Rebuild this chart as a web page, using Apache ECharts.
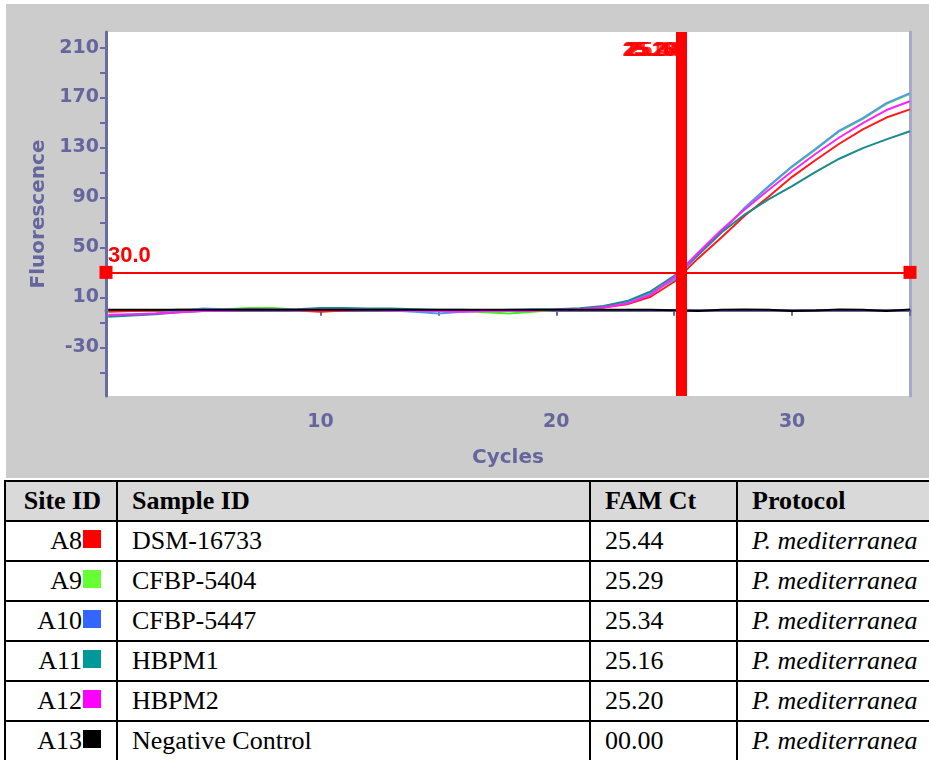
<!DOCTYPE html>
<html>
<head>
<meta charset="utf-8">
<script src="https://cdn.jsdelivr.net/npm/echarts@6/dist/echarts.min.js"></script>
<style>
  html, body { margin: 0; padding: 0; width: 929px; height: 760px; overflow: hidden; background: #ffffff; }
  #chart { position: absolute; left: 6px; top: 4px; width: 923px; height: 474px; background: #cccccc; }
  #results {
    position: absolute; left: 4px; top: 480px; width: 944px;
    border-collapse: collapse; table-layout: fixed;
    font-family: "Liberation Serif", "Times New Roman", serif; font-size: 26px; color: #000;
  }
  #results td, #results th { border: 2px solid #000; height: 38px; padding: 0; white-space: nowrap; overflow: hidden; }
  #results th { background: #d9d9d9; font-weight: bold; text-align: left; padding-left: 14px; }
  #results td { padding-left: 14px; }
  #results .site { text-align: right; padding-left: 0; padding-right: 15px; }
  #results .swatch { display: inline-block; width: 18px; height: 18px; vertical-align: 1px; margin-left: 1px; }
  #results .proto { font-style: italic; }
</style>
</head>
<body>
<div id="chart"></div>
<table id="results"></table>
<script>
// Amplification run: cycle numbers and fluorescence readings per well
const cycles = [1, 2, 3, 4, 5, 6, 7, 8, 9, 10, 11, 12, 13, 14, 15, 16, 17, 18, 19, 20,
                21, 22, 23, 24, 25, 26, 27, 28, 29, 30, 31, 32, 33, 34, 35];

const wellA8 = [-1.5, -1, -0.5, 0, 0, 0, 0.5, 0, -0.5, -1.5,
                -0.5, 0, 0, 0, -0.5, -0.5, -0.5, -1, -0.5, 0,
                0.5, 1.8, 4.5, 10.5, 22.5, 41, 58, 75.5, 90.5, 106.5,
                120, 133, 144.5, 154, 160.5];
const wellA9 = [-1, -1, -0.5, 0, 0, 0.5, 1.5, 1.5, 0, 0,
                0.5, 0, 0, 0, -0.5, -1, -2, -3, -1.5, 0,
                0.8, 2.2, 5.5, 12.5, 25, 44, 62.5, 81.5, 98.5, 114.5,
                128.5, 143, 153, 165, 173];
const wellA10 = [-5, -4, -3, -1, 1, 0.5, 0, 0, -0.5, 0,
                 0.5, 0, -0.5, -1.5, -3, -1.5, -0.5, 0, 0.5, 0,
                 0.8, 2.5, 6, 13.5, 24, 43.5, 62, 82, 99, 115,
                 129, 143.5, 153.5, 165.5, 173.5];
const wellA11 = [-5.5, -4.5, -3.5, -2, -1, 0, 0.5, 0, 0.5, 1.5,
                 1.5, 1, 1, 0.5, 0, 0, -0.5, -0.5, 0, 0.5,
                 1.2, 3, 7, 14.8, 27.3, 44, 62, 76.5, 88.5, 99,
                 110.5, 121, 129.5, 136.5, 143];
const wellA12 = [-4, -3.5, -3, -2, -1, -0.5, 0, 0, 0, 0,
                 0, 0, -0.5, -0.5, -1, -1.5, -1, -1, -0.5, 0,
                 0.5, 1.8, 5, 12, 26.1, 45.5, 64, 80.5, 96, 111,
                 125, 138, 149.5, 160, 167];
const wellA13 = [0, 0, 0, 0, 0, 0, 0, 0, 0, 0,
                 0, 0, 0, 0, 0, 0, 0, 0, 0, 0,
                 0, 0, 0, 0, -0.3, -1, 0, 0.3, 0, -1,
                 -0.6, 0.2, 0, -1, 0.3];

// Results table
const siteIds = ['A8', 'A9', 'A10', 'A11', 'A12', 'A13'];
const sampleIds = ['DSM-16733', 'CFBP-5404', 'CFBP-5447', 'HBPM1', 'HBPM2', 'Negative Control'];
const famCt = [25.44, 25.29, 25.34, 25.16, 25.20, 0];
const protocolName = 'P. mediterranea';
const tableHeaders = ['Site ID', 'Sample ID', 'FAM Ct', 'Protocol'];

// Axis ticks and labels
const xTickValues = [10, 15, 20, 25, 30, 35];
const xLabelValues = [10, 20, 30];
const yTickValues = [-50, -30, -10, 10, 30, 50, 70, 90, 110, 130, 150, 170, 190, 210];
const yLabelValues = [-30, 10, 50, 90, 130, 170, 210];

const threshold = 30.0;

const wells = [wellA8, wellA9, wellA10, wellA11, wellA12, wellA13];
const swatchColors = ['#ff0000', '#66ff33', '#3366ff', '#009999', '#ff00ff', '#000000'];
const lineColors = ['#ff1a1a', '#44ee22', '#5596f0', '#1a8a8a', '#ff22ff', '#000000'];
// green sits beneath the others, the rest follow the table order
const drawOrder = [1, 0, 2, 3, 4, 5];

const axisColor = '#6b6ba3';
const axisFont = { color: '#66669e', fontFamily: 'DejaVu Sans', fontWeight: 'bold', fontSize: 19 };
const markFont = { color: '#ff0000', fontFamily: 'Liberation Sans', fontWeight: 'bold', fontSize: 21 };
const ctLabelLevel = 208;

const curveSeries = drawOrder.map(i => ({
  name: siteIds[i],
  type: 'line',
  showSymbol: false,
  symbol: 'none',
  lineStyle: { color: lineColors[i], width: 2 },
  data: cycles.map((c, k) => [c, wells[i][k]]),
  z: 2
}));

const ctWells = famCt.map((v, i) => ({ v, i })).filter(d => d.v > 0);

const option = {
  animation: false,
  grid: { left: 100, right: 19, top: 28, bottom: 82, show: true, backgroundColor: '#ffffff', borderWidth: 0 },
  xAxis: [{
    type: 'value', min: 0.9, max: 35,
    axisLine: { show: true, lineStyle: { color: axisColor, width: 3 } },
    axisTick: { show: true, customValues: xTickValues, length: 6, lineStyle: { color: axisColor, width: 2 } },
    axisLabel: Object.assign({ customValues: xLabelValues, margin: 17 }, axisFont),
    splitLine: { show: false },
    name: 'Cycles', nameLocation: 'middle', nameGap: 52,
    nameTextStyle: Object.assign({}, axisFont, { fontSize: 20 })
  }, {
    type: 'value', min: 0.9, max: 35, position: 'top',
    axisLine: { show: true, lineStyle: { color: '#7474aa', width: 1 } },
    axisTick: { show: false }, axisLabel: { show: false }, splitLine: { show: false }
  }],
  yAxis: [{
    type: 'value', min: -69, max: 222.5,
    axisLine: { show: true, lineStyle: { color: axisColor, width: 3 } },
    axisTick: { show: true, customValues: yTickValues, length: 6, lineStyle: { color: axisColor, width: 2 } },
    axisLabel: Object.assign({ customValues: yLabelValues, margin: 7 }, axisFont),
    splitLine: { show: false },
    name: 'Fluorescence', nameLocation: 'middle', nameGap: 55,
    nameTextStyle: Object.assign({}, axisFont, { fontSize: 20 })
  }, {
    type: 'value', min: -69, max: 222.5, position: 'right',
    axisLine: { show: true, lineStyle: { color: '#a6a6cf', width: 3 } },
    axisTick: { show: false }, axisLabel: { show: false }, splitLine: { show: false }
  }],
  series: curveSeries.concat([
    {
      // threshold line with its end handles
      type: 'scatter',
      data: [[cycles[0], threshold]],
      symbolSize: 0,
      silent: true,
      z: 5,
      markLine: {
        silent: true,
        animation: false,
        symbol: ['rect', 'rect'],
        symbolSize: 13,
        lineStyle: { color: '#ff0000', width: 2, type: 'solid' },
        label: Object.assign({ show: true, position: 'insideStartTop', distance: [2, 5],
                               formatter: threshold.toFixed(1) }, markFont, { fontSize: 22 }),
        data: [{ yAxis: threshold }]
      }
    },
    {
      // Ct markers: vertical lines and their value labels
      type: 'scatter',
      data: ctWells.map(d => [d.v, ctLabelLevel]),
      symbolSize: 0,
      silent: true,
      z: 6,
      label: Object.assign({ show: true, position: 'left', distance: 3,
                             formatter: p => p.value[0].toFixed(2) }, markFont),
      labelLayout: { hideOverlap: false },
      markLine: {
        silent: true,
        animation: false,
        symbol: 'none',
        lineStyle: { color: '#ff0000', width: 5, type: 'solid' },
        label: { show: false },
        data: ctWells.map(d => ({ xAxis: d.v }))
      }
    }
  ])
};

echarts.init(document.getElementById('chart'), null, { renderer: 'canvas' }).setOption(option);

// Build the results table from the same arrays
const table = document.getElementById('results');
const colWidths = [112, 473, 147, 212];
const colgroup = document.createElement('colgroup');
colWidths.forEach(w => { const c = document.createElement('col'); c.style.width = w + 'px'; colgroup.appendChild(c); });
table.appendChild(colgroup);
const head = document.createElement('tr');
tableHeaders.forEach((h, i) => {
  const th = document.createElement('th');
  th.textContent = h;
  if (i === 0) th.className = 'site';
  head.appendChild(th);
});
table.appendChild(head);
siteIds.forEach((id, i) => {
  const tr = document.createElement('tr');
  const site = document.createElement('td');
  site.className = 'site';
  site.appendChild(document.createTextNode(id));
  const sw = document.createElement('span');
  sw.className = 'swatch';
  sw.style.background = swatchColors[i];
  site.appendChild(sw);
  tr.appendChild(site);
  const sample = document.createElement('td');
  sample.textContent = sampleIds[i];
  tr.appendChild(sample);
  const ct = document.createElement('td');
  ct.textContent = famCt[i].toFixed(2).padStart(5, '0');
  tr.appendChild(ct);
  const proto = document.createElement('td');
  proto.className = 'proto';
  proto.textContent = protocolName;
  tr.appendChild(proto);
  table.appendChild(tr);
});
</script>
</body>
</html>
